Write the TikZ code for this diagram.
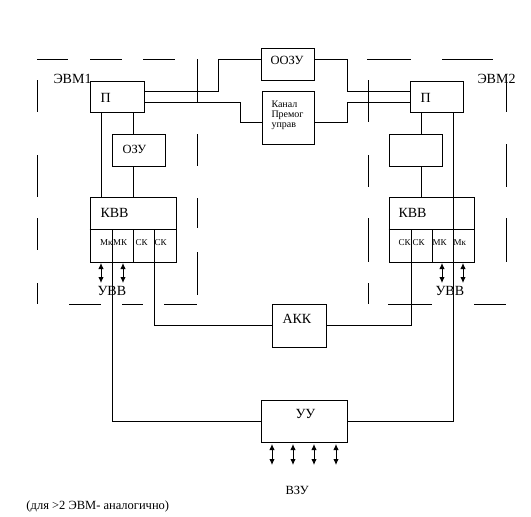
\documentclass[tikz,border=0pt]{standalone}
\usepackage{fontspec}
\setmainfont{Liberation Serif}
\usetikzlibrary{arrows.meta}
\begin{document}
\begin{tikzpicture}[x=1pt,y=-1pt, line width=1pt,
  box/.style={draw, inner sep=0pt},
  lbl/.style={anchor=base west, inner sep=0pt, font=\fontsize{14}{14}\selectfont},
  mid/.style={anchor=base west, inner sep=0pt, font=\fontsize{12.5}{12.5}\selectfont},
  sml/.style={anchor=base west, inner sep=0pt, font=\fontsize{9}{9}\selectfont},
  tny/.style={anchor=base west, inner sep=0pt, font=\fontsize{10}{10}\selectfont},
  io/.style={{Latex[length=6pt,width=5.5pt]}-{Latex[length=6pt,width=5.5pt]}}]
\useasboundingbox (0,0) rectangle (531,517);

% dashed frames (drawn as separate dashes)
\foreach \a/\b in {37/68,90/122,143/175,367/411,442/493}
  \draw (\a,59) -- (\b,59);
\foreach \a/\b in {69/101,122/143,164/197,388/432,474/506}
  \draw (\a,304) -- (\b,304);
\foreach \a/\b in {80/112,155/197,218/250,283/304}
  \draw (37,\a) -- (37,\b);
\foreach \a/\b in {59/102,134/166,198/228,252/295}
  \draw (197,\a) -- (197,\b);
\foreach \a/\b in {80/122,155/187,218/262,283/304}
  \draw (368,\a) -- (368,\b);
\foreach \a/\b in {80/112,144/187,218/262}
  \draw (506,\a) -- (506,\b);

% boxes
\node[box, minimum width=54pt, minimum height=31pt] (p1) at (117,96.5) {};
\node[box, minimum width=53pt, minimum height=32pt] (ozu1) at (138.5,150) {};
\node[box, minimum width=86pt, minimum height=65pt] (kvv1) at (133,229.5) {};
\node[box, minimum width=53pt, minimum height=31pt] (p2) at (436.5,96.5) {};
\node[box, minimum width=53pt, minimum height=32pt] (ozu2) at (415.5,150) {};
\node[box, minimum width=85pt, minimum height=65pt] (kvv2) at (431.5,229.5) {};
\node[box, minimum width=53pt, minimum height=32pt] (oozu) at (287.5,64) {};
\node[box, minimum width=52pt, minimum height=53pt] (kanal) at (288,117.5) {};
\node[box, minimum width=54pt, minimum height=43pt] (akk) at (299,325.5) {};
\node[box, minimum width=86pt, minimum height=42pt] (uu) at (304,421) {};

% internal divisions of KVV
\draw (kvv1.west) -- (kvv1.east);
\draw (kvv1.center -| 133,0) -- (kvv1.south -| 133,0);
\draw (kvv2.west) -- (kvv2.east);
\draw (kvv2.center -| 432,0) -- (kvv2.south -| 432,0);

% left computer links
\draw (p1.south -| 101,0) -- (kvv1.north -| 101,0);
\draw (p1.south -| 133,0) -- (ozu1.north -| 133,0);
\draw (ozu1.south -| 133,0) -- (kvv1.north -| 133,0);
\draw (kvv1.center -| 112,0) -- (112,421) -- (uu.west);
\draw (kvv1.center -| 154,0) -- (154,325.5) -- (akk.west);

% right computer links
\draw (p2.south -| 421,0) -- (ozu2.north -| 421,0);
\draw (ozu2.south -| 421,0) -- (kvv2.north -| 421,0);
\draw (p2.south -| 453,0) -- (453,421) -- (uu.east);
\draw (kvv2.center -| 411,0) -- (411,325.5) -- (akk.east);

% top links
\draw (p1.east |- 0,91) -- (218,91) -- (218,59) -- (oozu.west |- 0,59);
\draw (p1.east |- 0,102) -- (240,102) -- (240,122) -- (kanal.west |- 0,122);
\draw (oozu.east |- 0,59) -- (347,59) -- (347,91) -- (p2.west |- 0,91);
\draw (kanal.east |- 0,122) -- (347,122) -- (347,102) -- (p2.west |- 0,102);

% io arrows
\foreach \x in {101,123}
  \draw[io] (\x,263) -- (\x,283);
\foreach \x in {442,463}
  \draw[io] (\x,263) -- (\x,283);
\foreach \x in {272,293,314,336}
  \draw[io] (\x,444) -- (\x,465);

% labels
\node[lbl] (evm1) at (53,83) {ЭВМ1};
\node[lbl] (evm2) at (477,83) {ЭВМ2};
\node[lbl] (tp1) at (100,102) {П};
\node[lbl] (tp2) at (420,102) {П};
\node[mid] (tozu) at (122,153) {ОЗУ};
\node[lbl] (tkvv1) at (100,217) {КВВ};
\node[lbl] (tkvv2) at (398,217) {КВВ};
\node[sml] (s1) at (99.5,245) {Мк};
\node[sml] (s2) at (112.5,245) {МК};
\node[sml] (s3) at (135,245) {СК};
\node[sml] (s4) at (154,245) {СК};
\node[sml] (s5) at (398,245) {СК};
\node[sml] (s6) at (412,245) {СК};
\node[sml] (s7) at (432,245) {МК};
\node[sml] (s8) at (453,245) {Мк};
\node[lbl] (tuvv1) at (97,295) {УВВ};
\node[lbl] (tuvv2) at (435,295) {УВВ};
\node[mid] (toozu) at (270,64) {ООЗУ};
\node[tny] (tk1) at (271,107) {Канал};
\node[tny] (tk2) at (271,117) {Премог};
\node[tny] (tk3) at (271,127) {управ};
\node[lbl] (takk) at (282,323) {АКК};
\node[lbl] (tuu) at (295,418) {УУ};
\node[mid] (tvzu) at (285,494) {ВЗУ};
\node[mid] (note) at (26,509) {(для >2 ЭВМ- аналогично)};
\end{tikzpicture}
\end{document}
